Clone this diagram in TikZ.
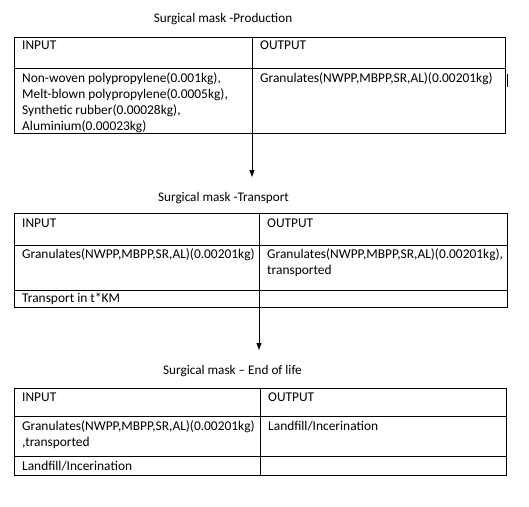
\documentclass[tikz,border=0pt]{standalone}
\usepackage{fontspec}
\setmainfont{Carlito}
\usetikzlibrary{arrows.meta}
\begin{document}
\begin{tikzpicture}[x=1pt,y=-1pt,
  grid/.style={line width=0.9pt},
  celltext/.style={anchor=base west, inner sep=0pt, align=left, font=\fontsize{13.4}{16}\selectfont},
  title/.style={anchor=base, inner sep=0pt, font=\fontsize{13.2}{16}\selectfont},
  flow/.style={line width=0.9pt,-{Triangle[length=7pt,width=5pt]}}]
\useasboundingbox[fill=white] (0,0) rectangle (529,506);

% ---------- Table 1 : Production ----------
\node[title] (title1) at (223,22.5) {Surgical mask -Production};
\draw[grid] (14,37) rectangle (505,133);
\draw[grid] (14,68) -- (505,68);
\draw[grid] (252,37) -- (252,133);
\coordinate (t1bot) at (252,133);
\node[celltext] (in1h) at (22,49.5) {INPUT};
\node[celltext] (out1h) at (260,49.5) {OUTPUT};
% base anchor of a multi-line node = baseline of its last line
\node[celltext] (in1) at (22,130.5) {Non-woven polypropylene(0.001kg),\\Melt-blown polypropylene(0.0005kg),\\Synthetic rubber(0.00028kg),\\Aluminium(0.00023kg)};
\node[celltext] (out1) at (260,82.5) {Granulates(NWPP,MBPP,SR,AL)(0.00201kg)};
\draw[line width=0.9pt] (507.5,74) -- (507.5,87);

% ---------- Table 2 : Transport ----------
\node[title] (title2) at (223.5,201.5) {Surgical mask -Transport};
\draw[grid] (14,213) rectangle (507,307);
\draw[grid] (14,245) -- (507,245);
\draw[grid] (14,290) -- (507,290);
\draw[grid] (259,213) -- (259,307);
\coordinate (t2top) at (252,177);
\coordinate (t2bot) at (259,307);
\node[celltext] (in2h) at (22,227.5) {INPUT};
\node[celltext] (out2h) at (267,227.5) {OUTPUT};
\node[celltext] (in2) at (22,258.5) {Granulates(NWPP,MBPP,SR,AL)(0.00201kg)};
\node[celltext] (out2) at (267,274.5) {Granulates(NWPP,MBPP,SR,AL)(0.00201kg),\\transported};
\node[celltext] (in2b) at (22,302.5) {Transport in t*KM};

% ---------- Table 3 : End of life ----------
\node[title] (title3) at (232.5,374.5) {Surgical mask – End of life};
\draw[grid] (14,388) rectangle (506,475);
\draw[grid] (14,416) -- (506,416);
\draw[grid] (14,456) -- (506,456);
\draw[grid] (260,388) -- (260,475);
\coordinate (t3top) at (259,350);
\node[celltext] (in3h) at (22,401.5) {INPUT};
\node[celltext] (out3h) at (268,401.5) {OUTPUT};
\node[celltext] (in3) at (22,446) {Granulates(NWPP,MBPP,SR,AL)(0.00201kg)\\,transported};
\node[celltext] (out3) at (268,430.5) {Landfill/Incerination};
\node[celltext] (in3b) at (22,470.5) {Landfill/Incerination};

% ---------- flow arrows ----------
\draw[flow] (t1bot) -- (t2top);
\draw[flow] (t2bot) -- (t3top);
\end{tikzpicture}
\end{document}
